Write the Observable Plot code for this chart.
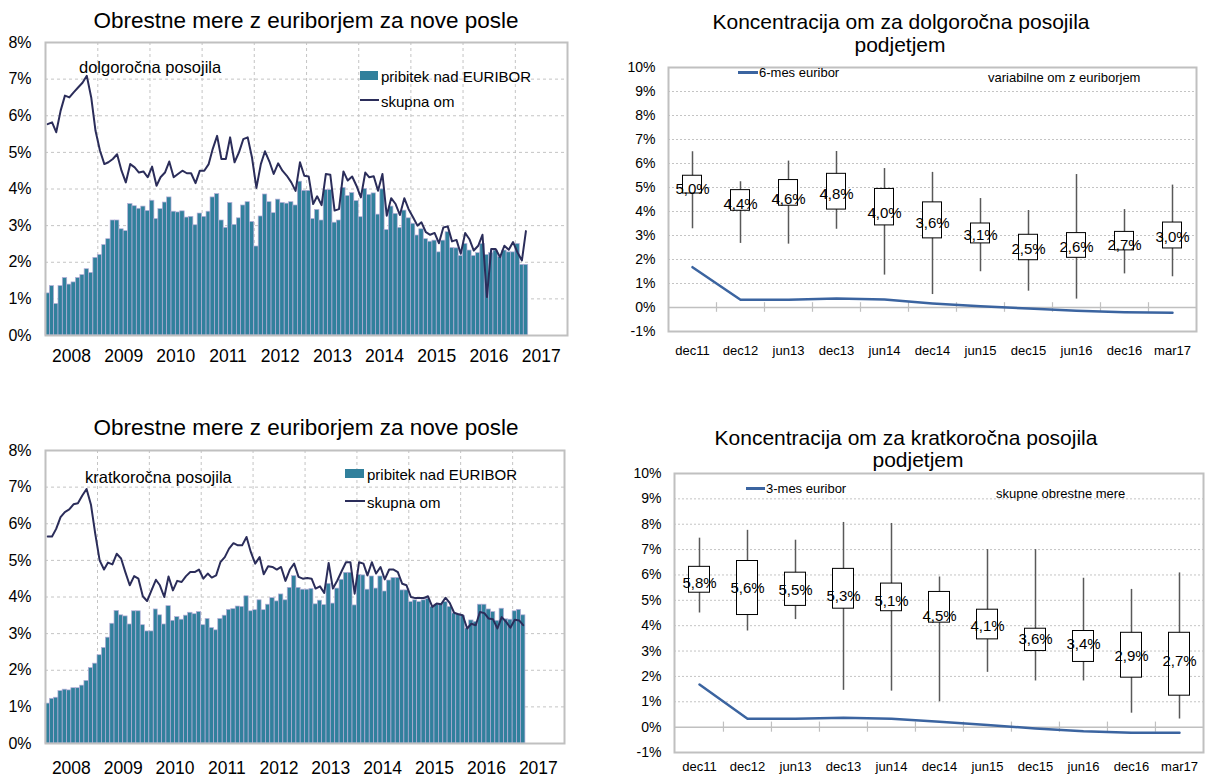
<!DOCTYPE html>
<html><head><meta charset="utf-8">
<script src="https://cdn.jsdelivr.net/npm/d3@7"></script>
<script src="https://cdn.jsdelivr.net/npm/@observablehq/plot@0.6"></script>
<style>
html,body{margin:0;padding:0;background:#fff;}
body{width:1205px;height:776px;position:relative;overflow:hidden;font-family:"Liberation Sans",Arial,sans-serif;color:#000;}
.abs{position:absolute;white-space:nowrap;line-height:1;}
.chart{position:absolute;}
</style></head><body>
<script>
// ---------- DATA ----------
const years = [2008, 2009, 2010, 2011, 2012, 2013, 2014, 2015, 2016, 2017];
const leftYTicks = [0, 1, 2, 3, 4, 5, 6, 7, 8];

// long-term loans (monthly, Jan 2008 - Mar 2017)
const tlSpread = [1.15,1.35,0.86,1.35,1.57,1.39,1.45,1.57,1.65,1.81,
 1.71,2.12,2.20,2.47,2.63,3.14,3.14,2.90,2.85,3.59,
 3.53,3.46,3.52,3.40,3.68,3.18,3.45,3.63,3.77,3.38,
 3.36,3.39,3.22,3.24,3.01,3.33,3.24,3.38,3.77,3.86,
 3.14,2.94,3.62,3.02,3.20,3.55,3.64,3.10,2.43,3.25,
 3.85,3.64,3.34,3.71,3.62,3.60,3.64,3.55,4.20,3.95,
 3.95,3.18,3.43,3.14,3.97,3.97,3.08,3.14,4.03,3.81,
 3.89,3.67,3.23,4.00,3.84,3.88,3.30,3.99,2.88,3.52,
 3.32,2.94,3.41,3.20,3.05,2.73,2.90,2.63,2.56,2.59,
 2.27,2.59,2.82,2.39,2.38,2.17,2.50,2.32,2.17,2.25,
 2.50,2.20,2.25,2.32,2.14,2.32,2.27,2.27,2.50,1.93,1.93];
const tlTotal = [5.77,5.82,5.55,6.14,6.55,6.50,6.64,6.77,6.90,7.09,
 6.50,5.59,5.05,4.68,4.73,4.82,4.95,4.50,4.18,4.68,
 4.59,4.45,4.48,4.32,4.61,4.09,4.32,4.45,4.75,4.32,
 4.41,4.50,4.43,4.43,4.16,4.50,4.50,4.68,5.09,5.45,
 4.82,4.82,5.41,4.73,5.00,5.36,5.41,4.86,4.03,4.68,
 5.03,4.75,4.41,4.70,4.50,4.36,4.18,3.95,4.73,4.36,
 4.34,3.59,3.80,3.56,4.41,4.39,3.41,3.45,4.48,4.23,
 4.34,4.09,3.77,4.45,4.32,4.35,3.95,4.41,3.27,3.75,
 3.59,3.29,3.75,3.45,3.23,3.00,3.09,2.82,2.75,2.80,
 2.52,2.95,2.98,2.57,2.61,2.23,2.80,2.62,2.32,2.45,
 2.75,1.05,2.36,2.36,2.14,2.45,2.34,2.55,2.27,2.05,2.85];

// short-term loans (monthly, Jan 2008 - Mar 2017)
const blSpread = [1.09,1.22,1.25,1.43,1.47,1.45,1.51,1.51,1.58,1.71,
 2.06,2.18,2.41,2.61,2.89,3.27,3.62,3.50,3.47,3.25,
 3.61,3.61,3.23,3.06,3.06,3.66,3.50,3.25,3.75,3.35,
 3.45,3.38,3.49,3.57,3.53,3.59,3.23,3.40,3.15,3.09,
 3.40,3.49,3.65,3.67,3.74,3.73,4.02,3.61,3.64,3.91,
 3.64,3.79,3.97,3.88,4.07,3.91,4.25,4.57,4.25,4.20,
 4.20,4.22,3.80,3.90,3.78,4.36,3.82,4.23,4.47,4.66,
 4.66,3.77,4.60,4.59,4.20,4.56,4.23,4.56,4.15,4.45,
 4.52,4.52,4.18,4.18,3.86,3.91,3.86,3.91,3.95,3.73,
 3.79,3.79,3.86,3.73,3.55,3.53,3.48,3.14,3.36,3.32,
 3.79,3.79,3.66,3.59,3.35,3.68,3.39,3.38,3.61,3.65,3.50];
const blTotal = [5.65,5.65,5.86,6.18,6.32,6.39,6.53,6.56,6.77,6.95,
 6.52,5.73,5.00,4.75,4.94,4.89,5.18,5.05,4.68,4.32,
 4.57,4.50,4.02,3.89,4.18,4.47,4.32,4.00,4.56,4.18,
 4.44,4.41,4.57,4.68,4.68,4.75,4.50,4.64,4.53,4.59,
 4.95,5.09,5.32,5.47,5.41,5.41,5.64,5.23,4.91,5.09,
 4.62,4.84,4.82,4.75,4.82,4.44,4.75,4.91,4.55,4.50,
 4.52,4.50,4.23,4.29,4.11,4.93,4.23,4.45,4.71,4.95,
 4.95,4.09,4.95,4.91,4.59,4.95,4.64,4.82,4.48,4.75,
 4.75,4.68,4.36,4.32,4.00,3.97,3.97,3.97,4.02,3.73,
 3.82,3.80,3.98,3.84,3.57,3.53,3.50,3.14,3.27,3.23,
 3.59,3.56,3.41,3.39,3.14,3.45,3.32,3.16,3.38,3.36,3.23];

// concentration box charts
const periods = ["dec11","dec12","jun13","dec13","jun14","dec14","jun15","dec15","jun16","dec16","mar17"];
const rightYTicks = [-1, 0, 1, 2, 3, 4, 5, 6, 7, 8, 9, 10];

const trHigh = [6.49,5.24,6.10,6.50,5.79,5.63,4.54,4.04,5.54,4.08,5.10];
const trQ3   = [5.49,4.89,5.31,5.57,4.94,4.38,3.50,3.03,3.10,3.15,3.54];
const trQ1   = [4.75,4.03,4.24,4.08,3.42,2.88,2.67,1.97,2.07,2.38,2.46];
const trLow  = [3.28,2.67,2.64,3.26,1.35,0.54,1.49,0.68,0.35,1.40,1.28];
const trMid  = [5.0,4.4,4.6,4.8,4.0,3.6,3.1,2.5,2.6,2.7,3.0];
const trEuribor = [1.68,0.32,0.32,0.38,0.33,0.17,0.05,-0.04,-0.14,-0.20,-0.22];

const brHigh = [7.45,7.76,7.37,8.07,8.03,5.92,7.00,7.00,5.87,5.43,6.08];
const brQ3   = [6.32,6.55,6.09,6.24,5.66,5.33,4.63,3.88,3.79,3.72,3.72];
const brQ1   = [5.30,4.42,4.78,4.67,4.57,4.12,3.46,3.00,2.57,1.95,1.24];
const brLow  = [4.50,3.79,4.24,1.45,1.42,1.00,2.16,1.82,1.82,0.55,0.32];
const brMid  = [5.8,5.6,5.5,5.3,5.1,4.5,4.1,3.6,3.4,2.9,2.7];
const brEuribor = [1.68,0.33,0.33,0.37,0.33,0.21,0.08,-0.05,-0.16,-0.22,-0.22];

// ---------- HELPERS ----------
const FONT = '"Liberation Sans", Arial, sans-serif';
const BAR = "#31809c", BAR_EDGE = "#b6aed8", LINE = "#2b2d5a", EUR = "#3b64a0", GRID = "#c4c4c4", FRAME = "#c0c0c0";

function addText(txt, x, y, size, anchor = "start", extra = {}) {
  const d = document.createElement("div");
  d.className = "abs";
  d.textContent = txt;
  d.style.left = x + "px";
  d.style.top = y + "px";
  d.style.fontSize = size + "px";
  d.style.transform = `translate(${anchor === "middle" ? "-50%" : "0"}, -50%)`;
  Object.assign(d.style, extra);
  document.body.appendChild(d);
}
function addBox(x, y, w, h, color) {
  const d = document.createElement("div");
  d.className = "abs";
  Object.assign(d.style, {left: x + "px", top: y + "px", width: w + "px", height: h + "px", background: color});
  document.body.appendChild(d);
}
function place(svg, left, top) {
  const wrap = document.createElement("div");
  wrap.className = "chart";
  wrap.style.left = left + "px";
  wrap.style.top = top + "px";
  wrap.appendChild(svg);
  document.body.appendChild(wrap);
}
function monthRows(spread, total) {
  return spread.map((s, i) => ({
    start: new Date(Date.UTC(years[0], i, 1)),
    end: new Date(Date.UTC(years[0], i + 1, 1)),
    mid: new Date(Date.UTC(years[0], i, 16)),
    spread: s, total: total[i]
  }));
}
function leftChart(rows, {width, height, mt, mr, mb, ml, xPad}) {
  const yearStarts = years.slice(1).map(y => new Date(Date.UTC(y, 0, 1)));
  const yearMids = years.map(y => new Date(Date.UTC(y, 6, 1)));
  return Plot.plot({
    width, height, marginTop: mt, marginRight: mr, marginBottom: mb, marginLeft: ml,
    style: {fontFamily: FONT, color: "#000", background: "transparent", overflow: "visible"},
    x: {type: "utc", domain: [new Date(Date.UTC(years[0], 0, 1)), new Date(Date.UTC(years[years.length - 1] + 1, 0, 1))]},
    y: {domain: [leftYTicks[0], leftYTicks[leftYTicks.length - 1]]},
    marks: [
      Plot.gridX(yearStarts, {stroke: GRID, strokeOpacity: 1, strokeDasharray: "3,3"}),
      Plot.gridY(leftYTicks.slice(1, -1), {stroke: GRID, strokeOpacity: 1, strokeDasharray: "3,3"}),
      Plot.rectY(rows, {x1: "start", x2: "end", y: "spread", fill: BAR, stroke: BAR_EDGE, strokeWidth: 0.7}),
      Plot.lineY(rows, {x: "mid", y: "total", stroke: LINE, strokeWidth: 2}),
      Plot.frame({stroke: FRAME, strokeWidth: 2}),
      Plot.axisY(leftYTicks, {tickSize: 0, tickPadding: 14, tickFormat: d => d + "%", fontSize: 16, label: null}),
      Plot.axisX(yearMids, {tickSize: 0, tickPadding: xPad, tickFormat: d => String(d.getUTCFullYear()), fontSize: 17.5, label: null})
    ]
  });
}
function boxChart(rows, {width, height, mt, mr, mb, ml, yPad, xPad, inset, labelDy}) {
  const bw = (width - ml - mr) / periods.length;
  return Plot.plot({
    width, height, marginTop: mt, marginRight: mr, marginBottom: mb, marginLeft: ml,
    style: {fontFamily: FONT, color: "#000", background: "transparent", overflow: "visible"},
    x: {type: "band", domain: periods, padding: 0},
    y: {domain: [rightYTicks[0], rightYTicks[rightYTicks.length - 1]]},
    marks: [
      Plot.gridY(rightYTicks.slice(2, -1), {stroke: GRID, strokeOpacity: 1, strokeDasharray: "2,2"}),
      Plot.ruleY([0], {stroke: FRAME, strokeWidth: 1.5}),
      Plot.ruleX(periods.slice(1), {x: d => d, y1: -0.2, y2: 0.2, dx: -bw / 2, stroke: FRAME, strokeWidth: 1.2}),
      Plot.ruleX(rows, {x: "p", y1: "low", y2: "high", stroke: "#595959", strokeWidth: 1.5}),
      Plot.barY(rows, {x: "p", y1: "q1", y2: "q3", fill: "#fff", stroke: "#000", strokeWidth: 1, insetLeft: inset, insetRight: inset}),
      Plot.text(rows, {x: "p", y: "mid", text: d => d.mid.toFixed(1).replace(".", ",") + "%", fontSize: 15, dy: labelDy, fill: "#000"}),
      Plot.lineY(rows, {x: "p", y: "eur", stroke: EUR, strokeWidth: 2.5}),
      Plot.frame({stroke: FRAME, strokeWidth: 2}),
      Plot.axisY(rightYTicks, {tickSize: 0, tickPadding: yPad, tickFormat: d => d + "%", fontSize: 14, label: null}),
      Plot.axisX(periods, {tickSize: 0, tickPadding: xPad, fontSize: 13, label: null})
    ]
  });
}
function boxRows(high, q3, q1, low, mid, eur) {
  return periods.map((p, i) => ({p, high: high[i], q3: q3[i], q1: q1[i], low: low[i], mid: mid[i], eur: eur[i]}));
}

// ---------- TOP LEFT ----------
place(leftChart(monthRows(tlSpread, tlTotal), {width: 580, height: 345, mt: 12, mr: 13, mb: 40, ml: 45, xPad: 14}), 0, 30);
addText("Obrestne mere z euriborjem za nove posle", 306, 21, 22.5, "middle");
addText("dolgoročna posojila", 79, 67, 16.5);
addBox(360, 71, 18, 9, BAR);
addText("pribitek nad EURIBOR", 381, 76, 15);
addBox(360, 99, 19, 2, LINE);
addText("skupna om", 381, 101, 15);

// ---------- BOTTOM LEFT ----------
place(leftChart(monthRows(blSpread, blTotal), {width: 580, height: 338, mt: 12, mr: 16, mb: 33, ml: 45, xPad: 18}), 0, 438);
addText("Obrestne mere z euriborjem za nove posle", 306, 428, 22.5, "middle");
addText("kratkoročna posojila", 85, 477, 16.5);
addBox(345, 469, 19, 9, BAR);
addText("pribitek nad EURIBOR", 367, 474, 15);
addBox(345, 500, 20, 2, LINE);
addText("skupna om", 367, 502, 15);

// ---------- TOP RIGHT ----------
place(boxChart(boxRows(trHigh, trQ3, trQ1, trLow, trMid, trEuribor), {width: 605, height: 310, mt: 12, mr: 9, mb: 34, ml: 68, yPad: 13, xPad: 14, inset: 14.5, labelDy: 2}), 600, 55);
addText("Koncentracija om za dolgoročna posojila", 901, 21, 21, "middle");
addText("podjetjem", 900, 44, 21, "middle");
addBox(738, 71, 20, 2.5, EUR);
addText("6-mes euribor", 759, 72, 13);
addText("variabilne om z euriborjem", 988, 77, 13);

// ---------- BOTTOM RIGHT ----------
place(boxChart(boxRows(brHigh, brQ3, brQ1, brLow, brMid, brEuribor), {width: 605, height: 315, mt: 12, mr: 2, mb: 24, ml: 74, yPad: 13, xPad: 9, inset: 13.5, labelDy: 3}), 600, 461);
addText("Koncentracija om za kratkoročna posojila", 906, 437, 21, "middle");
addText("podjetjem", 918, 459, 21, "middle");
addBox(746, 487, 19, 2.5, EUR);
addText("3-mes euribor", 766, 488, 13);
addText("skupne obrestne mere", 996, 493, 13);
</script>
</body></html>
